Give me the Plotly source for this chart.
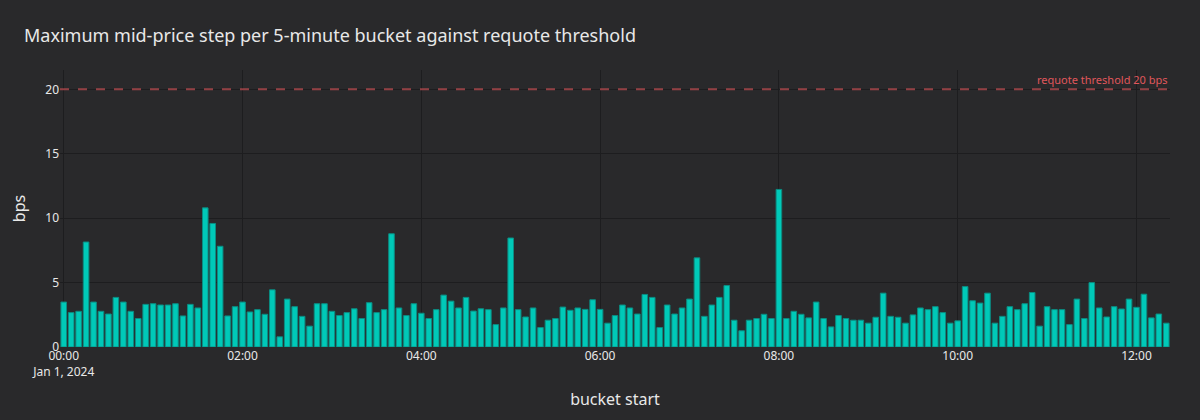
import pandas as pd
import plotly.graph_objects as go

# ── Colours ──────────────────────────────────────────────────────────────────
BG = "#29292b"
GRID = "#1d1d1f"
BAR = "#00c9b8"
BAR_EDGE = "#0b8c82"
THRESH = "#e0575c"
TEXT = "#e8e8e8"

# ── Data: max mid-price step (bps) per 5-minute bucket ───────────────────────
bucket_start = pd.date_range("2024-01-01 00:00", periods=149, freq="5min")

max_step_bps = [
    3.49, 2.67, 2.77, 8.15, 3.49, 2.77, 2.56, 3.85, 3.49, 2.77, 2.21, 3.31,
    3.36, 3.26, 3.26, 3.36, 2.41, 3.31, 3.03, 10.80, 9.59, 7.82, 2.41, 3.13,
    3.49, 2.72, 2.90, 2.54, 4.44, 0.79, 3.72, 3.13, 2.38, 1.62, 3.36, 3.36,
    2.77, 2.44, 2.67, 2.97, 2.21, 3.44, 2.67, 2.90, 8.79, 3.03, 2.44, 3.36,
    2.62, 2.21, 2.90, 4.03, 3.56, 3.03, 3.85, 2.79, 2.97, 2.90, 1.74, 3.03,
    8.46, 2.90, 2.33, 3.03, 1.51, 2.08, 2.21, 3.10, 2.85, 3.03, 2.92, 3.67,
    2.92, 1.85, 2.44, 3.26, 3.03, 2.56, 4.08, 3.85, 1.51, 3.26, 2.56, 3.03,
    3.72, 6.92, 2.38, 3.26, 3.85, 4.77, 2.08, 1.26, 2.08, 2.21, 2.54, 2.21,
    12.23, 2.21, 2.77, 2.54, 2.26, 3.49, 2.21, 1.56, 2.44, 2.21, 2.08, 2.08,
    1.85, 2.31, 4.18, 2.38, 2.31, 1.85, 2.49, 3.03, 2.90, 3.13, 2.67, 1.85,
    2.03, 4.69, 3.59, 3.41, 4.18, 1.85, 2.38, 3.13, 2.90, 3.36, 4.23, 1.62,
    3.13, 2.90, 2.90, 1.74, 3.72, 2.21, 5.00, 3.03, 2.33, 3.13, 2.95, 3.72,
    3.08, 4.10, 2.26, 2.56, 1.85,
]

requote_threshold = 20

# ── Figure ───────────────────────────────────────────────────────────────────
fig = go.Figure()

fig.add_trace(go.Bar(
    x=bucket_start,
    y=max_step_bps,
    marker=dict(color=BAR, line=dict(color=BAR_EDGE, width=1)),
    name="max step",
))

fig.add_hline(
    y=requote_threshold,
    line=dict(color=THRESH, width=2, dash="dash"),
    opacity=0.6,
    annotation_text=f"requote threshold {requote_threshold} bps",
    annotation_position="top right",
    annotation_font=dict(color=THRESH, size=11),
)

fig.update_layout(
    title=dict(
        text="Maximum mid-price step per 5-minute bucket against requote threshold",
        font=dict(size=18, color=TEXT),
        x=0.02, y=0.93,
    ),
    width=1200, height=420,
    showlegend=False,
    paper_bgcolor=BG,
    plot_bgcolor=BG,
    font=dict(family="Noto Sans, sans-serif", size=12, color=TEXT),
    margin=dict(t=70, b=73, l=60, r=30),
    bargap=0.25,
)

fig.update_xaxes(
    title=dict(text="bucket start", font=dict(size=16)),
    showgrid=True, gridcolor=GRID, zeroline=False,
    tickformat="%H:%M\n%b %-d, %Y",
    dtick=2 * 3600 * 1000,
    ticks="",
)
fig.update_yaxes(
    title=dict(text="bps", font=dict(size=16)),
    range=[0, 21.5],
    dtick=5,
    showgrid=True, gridcolor=GRID, zeroline=False,
)

# drop the browser's default body margin so the figure sits flush in the window
fig.write_html(
    "out.html",
    config={"displayModeBar": False},
    post_script="document.body.style.margin='0'; document.body.style.background='" + BG + "';",
)
